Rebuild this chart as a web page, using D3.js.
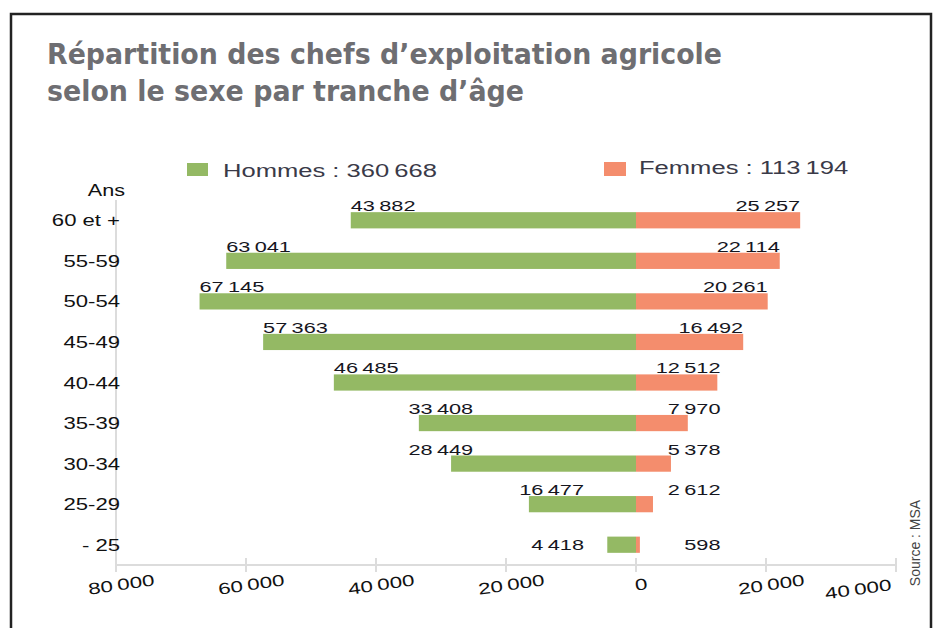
<!DOCTYPE html>
<html>
<head>
<meta charset="utf-8">
<script src="https://cdn.jsdelivr.net/npm/d3@7"></script>
<style>
  body { margin: 0; background: #fff; }
  svg { display: block; }
</style>
</head>
<body>
<svg width="937" height="628"></svg>
<script>
var tranches = ["60 et +", "55-59", "50-54", "45-49", "40-44", "35-39", "30-34", "25-29", "- 25"];
var hommes = [43882, 63041, 67145, 57363, 46485, 33408, 28449, 16477, 4418];
var femmes = [25257, 22114, 20261, 16492, 12512, 7970, 5378, 2612, 598];
var ticks = [-80000, -60000, -40000, -20000, 0, 20000, 40000];

var vert = "#94b964", saumon = "#f48d6d";

var fr = d3.formatLocale({decimal: ",", thousands: "\u2009", grouping: [3], currency: ["", " €"]});
var fmt = fr.format(",");

var svg = d3.select("svg");

// les textes de l'original sont tres elargis
function etirer(sel, k) {
  sel.each(function() {
    var w = this.getComputedTextLength();
    d3.select(this).attr("textLength", w * k).attr("lengthAdjust", "spacingAndGlyphs");
  });
}

// cadre
svg.append("rect")
    .attr("x", 11).attr("y", 14)
    .attr("width", 920).attr("height", 640)
    .attr("fill", "none")
    .attr("stroke", "#222")
    .attr("stroke-width", 2.5);

// titre
var titre = svg.append("g")
    .attr("font-family", "'Liberation Sans Narrow', 'Arial Narrow', 'DejaVu Sans Condensed', sans-serif")
    .attr("font-weight", "bold")
    .attr("font-size", 29)
    .attr("fill", "#6e6e72");
titre.append("text").attr("x", 47).attr("y", 64)
    .text("Répartition des chefs d’exploitation agricole")
    .attr("textLength", 675).attr("lengthAdjust", "spacingAndGlyphs");
titre.append("text").attr("x", 47).attr("y", 101)
    .text("selon le sexe par tranche d’âge")
    .attr("textLength", 477).attr("lengthAdjust", "spacingAndGlyphs");

var x = d3.scaleLinear()
    .domain([-80000, 40000])
    .range([116, 896]);

var y = d3.scaleBand()
    .domain(tranches)
    .range([200, 565])
    .paddingInner(0.6)
    .paddingOuter(0.3);

var police = "'Liberation Sans', Arial, sans-serif";

// legende
var leg = svg.append("g").attr("font-family", police).attr("font-size", 18).attr("fill", "#3a3a48");
leg.append("rect").attr("x", 187).attr("y", 163).attr("width", 21).attr("height", 13).attr("fill", vert);
leg.append("text").attr("x", 223).attr("y", 177)
    .text("Hommes : " + fmt(d3.sum(hommes))).call(etirer, 1.42);
leg.append("rect").attr("x", 604).attr("y", 162).attr("width", 22).attr("height", 14).attr("fill", saumon);
leg.append("text").attr("x", 639).attr("y", 174)
    .text("Femmes : " + fmt(d3.sum(femmes))).call(etirer, 1.42);

// axes
var axes = svg.append("g").attr("stroke", "#dcdcdc").attr("stroke-width", 2);
axes.append("line")
    .attr("x1", x(-80000)).attr("x2", x(-80000))
    .attr("y1", 200).attr("y2", 565);
axes.append("line")
    .attr("x1", x(-80000)).attr("x2", x(40000))
    .attr("y1", 565).attr("y2", 565);
axes.selectAll(".tick")
  .data(ticks)
  .enter().append("line")
    .attr("x1", function(d) { return x(d); })
    .attr("x2", function(d) { return x(d); })
    .attr("y1", 558).attr("y2", 572);

// le dernier libelle est place a gauche de sa graduation
var dernier = ticks[ticks.length - 1];
svg.append("g")
    .attr("font-family", police)
    .attr("font-size", 16)
    .attr("fill", "#111")
  .selectAll("text")
  .data(ticks)
  .enter().append("text")
    .attr("text-anchor", function(d) { return d === dernier ? "end" : "middle"; })
    .attr("transform", function(d) {
      var px = d === dernier ? x(d) - 4 : x(d) + 6;
      return "translate(" + px + ",590) rotate(-8)";
    })
    .text(function(d) { return fmt(Math.abs(d)); })
    .call(etirer, 1.4);

// tranches d'age
var lab = svg.append("g").attr("font-family", police).attr("font-size", 16).attr("fill", "#111");
lab.append("text").attr("x", 125).attr("y", 196).attr("text-anchor", "end").text("Ans").call(etirer, 1.35);
lab.selectAll(".cat")
  .data(tranches)
  .enter().append("text")
    .attr("x", 120)
    .attr("y", function(d) { return y(d) + y.bandwidth() / 2 + 6; })
    .attr("text-anchor", "end")
    .text(function(d) { return d; })
    .call(etirer, 1.38);

// barres
var bars = svg.append("g");
bars.selectAll(".h")
  .data(hommes)
  .enter().append("rect")
    .attr("x", function(d) { return x(-d); })
    .attr("y", function(d, i) { return y(tranches[i]); })
    .attr("width", function(d) { return x(0) - x(-d); })
    .attr("height", y.bandwidth())
    .attr("fill", vert);
bars.selectAll(".f")
  .data(femmes)
  .enter().append("rect")
    .attr("x", x(0))
    .attr("y", function(d, i) { return y(tranches[i]); })
    .attr("width", function(d) { return x(d) - x(0); })
    .attr("height", y.bandwidth())
    .attr("fill", saumon);

// valeurs : au-dessus des barres, sauf la derniere tranche (a cote)
var val = svg.append("g").attr("font-family", police).attr("font-size", 15.5).attr("fill", "#16161e");
function ligneTexte(i) {
  if (i === tranches.length - 1) return y(tranches[i]) + y.bandwidth() / 2 + 5;
  return y(tranches[i]) - 1;
}
val.selectAll(".vh")
  .data(hommes)
  .enter().append("text")
    .attr("x", function(d) { return d > 20000 ? Math.min(x(-d), x(-35000)) : x(-8000); })
    .attr("y", function(d, i) { return ligneTexte(i); })
    .attr("text-anchor", function(d) { return d > 20000 ? "start" : "end"; })
    .text(function(d) { return fmt(d); })
    .call(etirer, 1.4);
val.selectAll(".vf")
  .data(femmes)
  .enter().append("text")
    .attr("x", function(d) { return Math.max(x(d), x(13000)); })
    .attr("y", function(d, i) { return ligneTexte(i); })
    .attr("text-anchor", "end")
    .text(function(d) { return fmt(d); })
    .call(etirer, 1.4);

// source
svg.append("text")
    .attr("transform", "translate(920,543) rotate(-90)")
    .attr("text-anchor", "middle")
    .attr("font-family", "'Liberation Sans Narrow', 'Arial Narrow', sans-serif")
    .attr("font-size", 14)
    .attr("fill", "#444")
    .text("Source : MSA");
</script>
</body>
</html>
